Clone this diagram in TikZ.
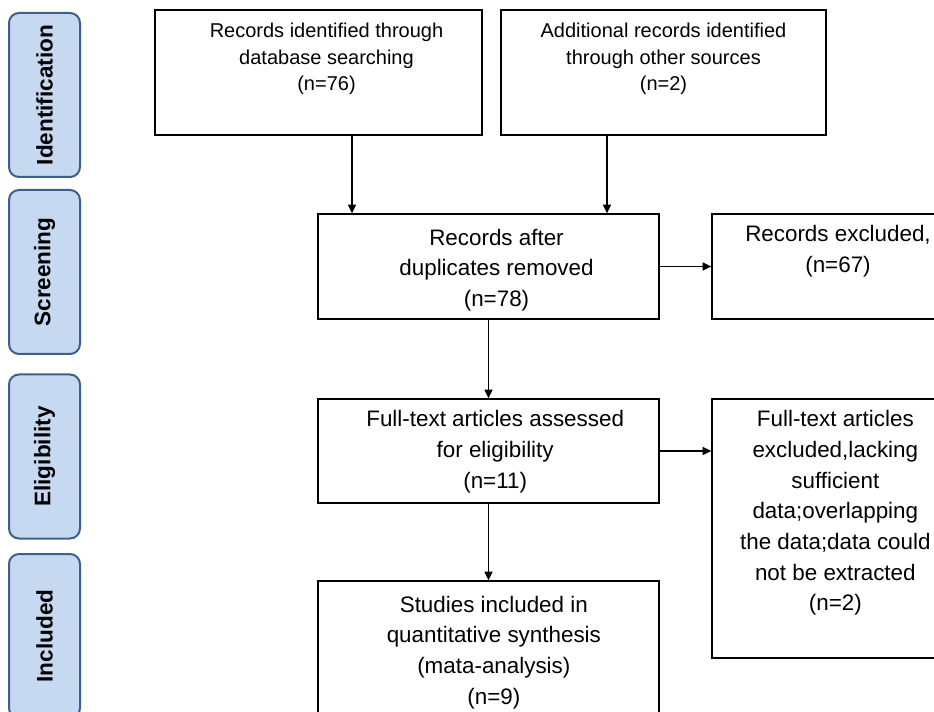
\documentclass[tikz,border=0pt]{standalone}
\usepackage{fontspec}
\setmainfont{Liberation Sans}
\usetikzlibrary{arrows.meta}

\definecolor{stagefill}{HTML}{C6D9F1}
\definecolor{stageline}{HTML}{3D5F8C}
\newcommand{\topfont}{\fontsize{15}{20}\selectfont}
\newcommand{\midfont}{\fontsize{16.8}{23}\selectfont}

\begin{document}
\begin{tikzpicture}[x=0.75pt, y=-0.75pt,
    stage/.style={draw=stageline, line width=1.5pt, fill=stagefill, rounded corners=7.5pt,
        rotate=90, minimum width=123pt, minimum height=53.25pt, inner sep=0pt,
        font=\fontsize{16.9}{20}\selectfont\bfseries},
    flowbox/.style={draw, line width=1pt, inner sep=0pt},
    boxtext/.style={anchor=north, align=center, inner sep=0pt},
    arr/.style={-{Triangle[length=6.5pt, width=6pt]}, line width=0.9pt}]
    \useasboundingbox (0, 0) rectangle (934, 712);
    \clip (0, 0) rectangle (934, 712);

    % Stages on the left
    \node[stage] (ident) at (44.5, 95) {Identification};
    \node[stage] (screen) at (44.5, 272) {Screening};
    \node[stage] (elig) at (44.5, 456.5) {Eligibility};
    \node[stage] (incl) at (44.5, 636) {Included};

    % Identification
    \node[flowbox, minimum width=245.25pt, minimum height=93.75pt,
        label={[boxtext, font=\topfont, yshift=-10pt, xshift=6pt]north:Records identified through\\database searching\\(n=76)}]
        (db) at (318.5, 72.5) {};
    \node[flowbox, minimum width=243.75pt, minimum height=93.75pt,
        label={[boxtext, font=\topfont, yshift=-10pt]north:Additional records identified\\through other sources\\(n=2)}]
        (other) at (663.5, 72.5) {};

    % Screening
    \node[flowbox, minimum width=255.75pt, minimum height=78.75pt,
        label={[boxtext, font=\midfont, yshift=-11.5pt, xshift=6pt]north:Records after\\duplicates removed\\(n=78)}]
        (dup) at (488.5, 266.5) {};
    \node[flowbox, minimum width=189pt, minimum height=78.75pt,
        label={[boxtext, font=\midfont, yshift=-9pt]north:Records excluded,\\(n=67)}]
        (excl) at (838, 266.5) {};

    % Eligibility
    \node[flowbox, minimum width=255.75pt, minimum height=78pt,
        label={[boxtext, font=\midfont, yshift=-9pt, xshift=5pt]north:Full-text articles assessed\\for eligibility\\(n=11)}]
        (full) at (488.5, 451) {};
    \node[flowbox, minimum width=189pt, minimum height=194.25pt,
        label={[boxtext, font=\midfont, yshift=-9pt, xshift=-2pt]north:Full-text articles\\excluded,lacking\\sufficient\\data;overlapping\\the data;data could\\not be extracted\\(n=2)}]
        (fullex) at (838, 528.5) {};

    % Included
    \node[flowbox, minimum width=255.75pt, minimum height=120pt,
        label={[boxtext, font=\midfont, yshift=-11.5pt, xshift=4pt]north:Studies included in\\quantitative synthesis\\(mata-analysis)\\(n=9)}]
        (studies) at (488.5, 661) {};

    % Connectors
    \coordinate (c1) at (352, 0);
    \coordinate (c2) at (607, 0);
    \draw[arr] (c1 |- db.south) -- (c1 |- dup.north);
    \draw[arr] (c2 |- other.south) -- (c2 |- dup.north);
    \draw[arr] (dup.east) -- (excl.west);
    \draw[arr] (dup.south) -- (full.north);
    \draw[arr] (full.east) -- (full.east -| fullex.west);
    \draw[arr] (full.south) -- (studies.north);
\end{tikzpicture}
\end{document}
